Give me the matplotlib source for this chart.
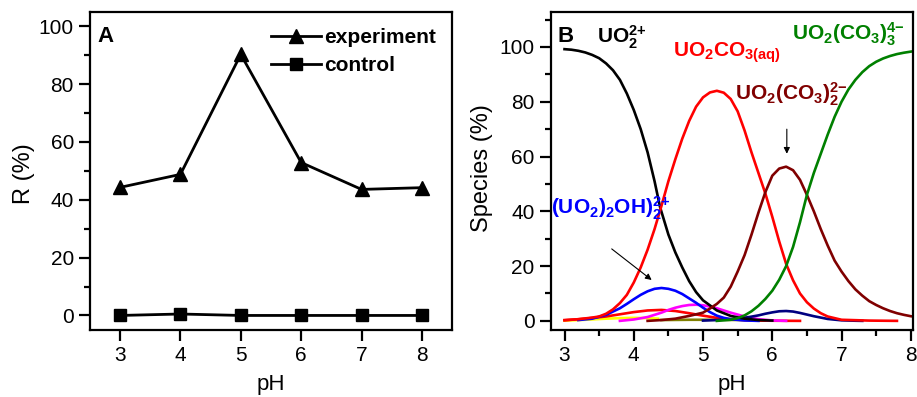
import numpy as np
import matplotlib
matplotlib.use("Agg")
import matplotlib.pyplot as plt
from matplotlib.ticker import MultipleLocator

plt.rcParams["font.family"] = ["Liberation Sans", "DejaVu Sans"]
plt.rcParams["mathtext.fontset"] = "custom"
plt.rcParams["mathtext.rm"] = "Liberation Sans:bold"
plt.rcParams["mathtext.it"] = "Liberation Sans:bold"
plt.rcParams["mathtext.bf"] = "Liberation Sans:bold"
plt.rcParams["mathtext.default"] = "regular"

# ---- panel A: removal vs pH ----
ph_a = [3, 4, 5, 6, 7, 8]
r_experiment = [44.3, 48.8, 90.3, 52.9, 43.6, 44.2]
r_control = [0.0, 0.5, 0.0, 0.0, 0.0, 0.0]

# ---- panel B: uranium speciation ----
ph_uo2 = [3.0, 3.1, 3.2, 3.3, 3.4, 3.5, 3.6, 3.7, 3.8, 3.9, 4.0, 4.1, 4.2,
          4.3, 4.38, 4.5, 4.6, 4.7, 4.8, 4.9, 5.0, 5.2, 5.4, 5.6, 5.8, 6.0]
sp_uo2 = [99.2, 99.0, 98.6, 98.0, 97.1, 95.9, 94.0, 91.5, 88.0, 83.0, 77.0,
          70.0, 61.5, 51.0, 41.5, 31.5, 25.0, 19.5, 14.5, 10.5, 7.5, 3.8,
          1.8, 0.8, 0.3, 0.1]

ph_uo2co3 = [3.0, 3.2, 3.4, 3.5, 3.6, 3.7, 3.8, 3.9, 4.0, 4.1, 4.2, 4.3,
             4.4, 4.5, 4.6, 4.7, 4.8, 4.9, 5.0, 5.1, 5.2, 5.3, 5.4, 5.5,
             5.6, 5.7, 5.8, 5.9, 6.0, 6.1, 6.2, 6.3, 6.4, 6.5, 6.6, 6.7,
             6.8, 7.0, 7.4, 7.8]
sp_uo2co3 = [0.3, 0.6, 1.2, 1.6, 2.6, 4.2, 6.5, 9.5, 14.0, 19.5, 26.0, 33.5,
             42.0, 51.0, 59.0, 66.5, 73.0, 78.2, 81.6, 83.4, 84.0, 83.3,
             81.0, 76.5, 69.5, 61.5, 54.0, 46.5, 38.0, 29.0, 20.8, 14.8,
             10.0, 6.8, 4.5, 2.8, 1.6, 0.4, 0.1, 0.0]

ph_dicarb = [4.2, 4.4, 4.6, 4.8, 5.0, 5.1, 5.2, 5.3, 5.4, 5.5, 5.6, 5.7,
             5.8, 5.9, 6.0, 6.1, 6.2, 6.3, 6.4, 6.5, 6.6, 6.7, 6.8, 6.9,
             7.0, 7.1, 7.2, 7.3, 7.4, 7.5, 7.6, 7.7, 7.8, 7.9, 8.0]
sp_dicarb = [0.0, 0.3, 0.8, 1.8, 3.0, 4.5, 6.2, 8.5, 12.5, 18.0, 24.0, 31.5,
             39.5, 47.0, 53.0, 55.6, 56.3, 55.0, 51.5, 46.0, 40.0, 33.5,
             27.5, 22.0, 18.0, 14.5, 11.5, 9.2, 7.2, 5.8, 4.6, 3.6, 2.8,
             2.2, 1.7]

ph_tricarb = [5.2, 5.4, 5.5, 5.6, 5.7, 5.8, 5.9, 6.0, 6.1, 6.2, 6.3, 6.4,
              6.5, 6.6, 6.7, 6.8, 6.9, 7.0, 7.1, 7.2, 7.3, 7.4, 7.5, 7.6,
              7.7, 7.8, 7.9, 8.0]
sp_tricarb = [0.0, 0.4, 1.0, 2.0, 3.5, 5.5, 8.0, 11.0, 15.0, 20.0, 27.0,
              36.0, 46.0, 54.0, 61.0, 68.0, 74.5, 80.0, 84.5, 88.0, 90.8,
              93.0, 94.6, 95.8, 96.7, 97.4, 97.9, 98.3]

ph_dimer = [3.2, 3.4, 3.6, 3.8, 3.9, 4.0, 4.1, 4.2, 4.3, 4.4, 4.5, 4.6,
            4.7, 4.8, 4.9, 5.0, 5.1, 5.2, 5.3, 5.4, 5.6, 5.8]
sp_dimer = [0.3, 0.8, 2.2, 4.6, 6.2, 7.9, 9.5, 10.8, 11.7, 12.0, 11.7,
            11.0, 9.8, 8.2, 6.6, 4.8, 3.2, 1.9, 1.1, 0.6, 0.15, 0.0]

ph_navy = [5.0, 5.2, 5.4, 5.6, 5.8, 5.9, 6.0, 6.1, 6.2, 6.3, 6.4, 6.5,
           6.6, 6.7, 6.8, 7.0, 7.2, 7.3]
sp_navy = [0.1, 0.3, 0.6, 1.1, 2.0, 2.6, 3.1, 3.5, 3.6, 3.4, 2.9, 2.3,
           1.7, 1.2, 0.7, 0.2, 0.05, 0.0]

ph_magenta = [3.8, 4.0, 4.2, 4.4, 4.5, 4.6, 4.7, 4.8, 4.9, 5.0, 5.1, 5.2,
              5.3, 5.4, 5.5, 5.6, 5.8, 6.0, 6.2]
sp_magenta = [0.0, 0.5, 1.4, 3.0, 4.0, 4.8, 5.4, 5.8, 5.9, 5.7, 5.2, 4.6,
              3.8, 3.0, 2.3, 1.6, 0.6, 0.15, 0.0]

ph_red2 = [3.0, 3.3, 3.6, 3.8, 4.0, 4.2, 4.4, 4.6, 4.8, 5.0, 5.2, 5.4,
           5.6, 5.8, 6.0, 6.4]
sp_red2 = [0.2, 0.8, 1.6, 2.4, 3.2, 3.8, 4.0, 3.6, 2.8, 1.9, 1.1, 0.6,
           0.3, 0.1, 0.05, 0.0]

ph_yellow = [3.0, 3.3, 3.6, 3.8, 4.0, 4.2, 4.35]
sp_yellow = [0.1, 0.4, 0.8, 1.0, 1.1, 1.0, 0.8]

ph_olive = [4.4, 4.8, 5.2, 5.6, 6.0]
sp_olive = [0.3, 0.4, 0.4, 0.3, 0.2]

fig = plt.figure(figsize=(9.17, 3.97), dpi=100)
ax_a = fig.add_axes([0.098, 0.169, 0.395, 0.801])
ax_b = fig.add_axes([0.6005, 0.169, 0.395, 0.801])

for ax in (ax_a, ax_b):
    for sp in ax.spines.values():
        sp.set_linewidth(1.6)
    ax.tick_params(which="both", direction="out", top=False, right=False,
                   labelsize=15, width=1.6)
    ax.tick_params(which="major", length=8)
    ax.tick_params(which="minor", length=4)

# Panel A
ax_a.plot(ph_a, r_experiment, "-^", color="black", lw=2, ms=10,
          label="experiment")
ax_a.plot(ph_a, r_control, "-s", color="black", lw=2, ms=9,
          label="control")
ax_a.set_xlim(2.5, 8.5)
ax_a.set_ylim(-5, 105)
ax_a.xaxis.set_major_locator(MultipleLocator(1))
ax_a.yaxis.set_major_locator(MultipleLocator(20))
ax_a.yaxis.set_minor_locator(MultipleLocator(10))
ax_a.set_xlabel("pH", fontsize=16)
ax_a.set_ylabel("R (%)", fontsize=17)
ax_a.xaxis.set_label_coords(0.5, -0.14)
ax_a.yaxis.set_label_coords(-0.152, 0.49)
ax_a.text(0.02, 0.955, "A", transform=ax_a.transAxes, fontsize=16,
          fontweight="bold", va="top", ha="left")
leg = ax_a.legend(loc="upper right", bbox_to_anchor=(0.955, 0.95),
                  frameon=False, prop={"weight": "bold", "size": 15},
                  handlelength=2.4, handletextpad=0.15, labelspacing=0.45,
                  borderpad=0, borderaxespad=0)

# Panel B
lw = 1.9
ax_b.plot(ph_yellow, sp_yellow, color="#ffff00", lw=lw)
ax_b.plot(ph_olive, sp_olive, color="#808000", lw=lw)
ax_b.plot(ph_red2, sp_red2, color="#ff0000", lw=lw)
ax_b.plot(ph_magenta, sp_magenta, color="#ff00ff", lw=lw)
ax_b.plot(ph_navy, sp_navy, color="#000080", lw=lw)
ax_b.plot(ph_dimer, sp_dimer, color="#0000ff", lw=lw)
ax_b.plot(ph_uo2, sp_uo2, color="black", lw=lw)
ax_b.plot(ph_uo2co3, sp_uo2co3, color="#ff0000", lw=lw)
ax_b.plot(ph_dicarb, sp_dicarb, color="#800000", lw=lw)
ax_b.plot(ph_tricarb, sp_tricarb, color="#008000", lw=lw)

ax_b.set_xlim(2.8, 8.03)
ax_b.set_ylim(-3.3, 112.8)
ax_b.xaxis.set_major_locator(MultipleLocator(1))
ax_b.xaxis.set_minor_locator(MultipleLocator(0.5))
ax_b.yaxis.set_minor_locator(MultipleLocator(10))
ax_b.set_yticks([0, 20, 40, 60, 80, 100])
ax_b.set_xlabel("pH", fontsize=16)
ax_b.set_ylabel("Species (%)", fontsize=17)
ax_b.xaxis.set_label_coords(0.5, -0.14)
ax_b.yaxis.set_label_coords(-0.16, 0.51)
ax_b.text(0.02, 0.955, "B", transform=ax_b.transAxes, fontsize=16,
          fontweight="bold", va="top", ha="left")

lab = dict(fontsize=15, fontweight="bold", va="baseline", ha="left")
ax_b.text(3.47, 101.3, r"UO$_2^{2{+}}$", color="black", **lab)
ax_b.text(4.56, 96.5, r"UO$_2$CO$_{3(aq)}$", color="#ff0000", **lab)
ax_b.text(5.46, 80.7, r"UO$_2$(CO$_3$)$_2^{2{-}}$", color="#800000", **lab)
ax_b.text(6.28, 102.6, r"UO$_2$(CO$_3$)$_3^{4{-}}$", color="#008000", **lab)
ax_b.text(2.80, 39.0, r"(UO$_2$)$_2$OH)$_2^{2{+}}$", color="#0000ff", **lab)

arrow = dict(arrowstyle="-|>", color="black", lw=0.8, mutation_scale=9)
ax_b.annotate("", xy=(4.29, 14.3), xytext=(3.65, 26.9), arrowprops=arrow)
ax_b.annotate("", xy=(6.21, 60.0), xytext=(6.21, 71.0), arrowprops=arrow)

fig.savefig("out.png", dpi=100)
